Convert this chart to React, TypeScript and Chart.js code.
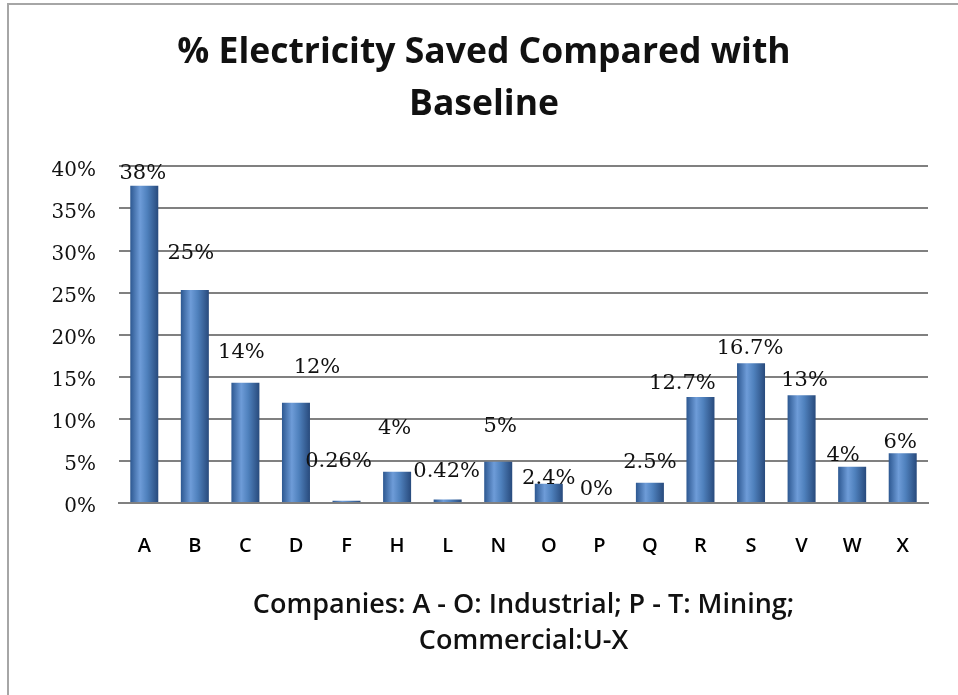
import React, { useEffect, useRef } from "react";
import { Chart, registerables } from "chart.js";

Chart.register(...registerables);

const CATEGORIES = ["A", "B", "C", "D", "F", "H", "L", "N", "O", "P", "Q", "R", "S", "V", "W", "X"];
const SAVED_PCT = [37.7, 25.3, 14.3, 11.9, 0.26, 3.7, 0.42, 4.9, 2.3, 0, 2.4, 12.6, 16.6, 12.8, 4.3, 5.9];
const VALUE_LABELS = ["38%", "25%", "14%", "12%", "0.26%", "4%", "0.42%", "5%", "2.4%", "0%", "2.5%", "12.7%", "16.7%", "13%", "4%", "6%"];
// label nudges relative to each bar's top centre (as placed in the original)
const LABEL_DX = [-1.5, -4, -4, 21, -8, -2.5, -1, 2, 0, -3, 0, -18, -1, 3, -9, -2.5];
const LABEL_DY = [-12, -37, -30, -35, -39, -43, -28, -35, -5.5, -13, -20, -13, -14.5, -15, -11.5, -10.5];
const TITLE_LINES = ["% Electricity Saved Compared with", "Baseline"];
const X_TITLE_LINES = ["Companies: A - O: Industrial; P - T: Mining;", "Commercial:U-X"];
const Y_MIN = 0;
const Y_MAX = 40;
const Y_STEP = 5;

const BAR_PCT = 0.554;

const frame = {
  id: "frame",
  beforeDraw(chart: any) {
    const { ctx, width, height } = chart;
    ctx.save();
    ctx.fillStyle = "#ffffff";
    ctx.fillRect(0, 0, width, height);
    ctx.strokeStyle = "#a6a6a6";
    ctx.lineWidth = 2;
    ctx.beginPath();
    ctx.moveTo(8, height + 5);
    ctx.lineTo(8, 4);
    ctx.lineTo(width + 5, 4);
    ctx.stroke();
    ctx.restore();
  },
};

const valueLabels = {
  id: "valueLabels",
  afterDatasetsDraw(chart: any) {
    const { ctx } = chart;
    const meta = chart.getDatasetMeta(0);
    ctx.save();
    ctx.font = "21px 'DejaVu Serif'";
    ctx.fillStyle = "#111111";
    ctx.textAlign = "center";
    ctx.textBaseline = "middle";
    meta.data.forEach((el: any, i: number) => {
      ctx.fillText(VALUE_LABELS[i], el.x + LABEL_DX[i], el.y + LABEL_DY[i]);
    });
    ctx.restore();
  },
};

function barGradient(ctx: any) {
  const chart = ctx.chart;
  const xs = chart.scales?.x;
  if (!xs || !chart.chartArea) return "#4f81bd";
  const cx = xs.getPixelForValue(ctx.dataIndex);
  const half = ((xs.width / CATEGORIES.length) * BAR_PCT) / 2;
  const g = chart.ctx.createLinearGradient(cx - half, 0, cx + half, 0);
  g.addColorStop(0, "#2d5891");
  g.addColorStop(0.35, "#6e9cd8");
  g.addColorStop(0.6, "#4f81bd");
  g.addColorStop(1, "#284a7c");
  return g;
}

export default function App() {
  const ref = useRef<HTMLCanvasElement | null>(null);

  useEffect(() => {
    if (!ref.current) return;
    const chart = new Chart(ref.current, {
      type: "bar",
      data: {
        labels: CATEGORIES,
        datasets: [
          {
            data: SAVED_PCT,
            backgroundColor: barGradient as any,
            borderWidth: 0,
            categoryPercentage: 1,
            barPercentage: BAR_PCT,
          },
        ],
      },
      options: {
        responsive: false,
        animation: false,
        layout: { padding: { left: 40, right: 30, top: 0, bottom: 36 } },
        plugins: {
          legend: { display: false },
          tooltip: { enabled: false },
          title: {
            display: true,
            text: TITLE_LINES,
            color: "#111111",
            font: { family: "'Open Sans'", size: 35.5, weight: "bold", lineHeight: 1.47 },
            padding: { top: 27, bottom: 35 },
          },
        },
        scales: {
          x: {
            grid: { display: false, drawTicks: false },
            border: { display: true, color: "#808080", width: 2 },
            ticks: {
              color: "#000000",
              font: { family: "'Open Sans'", size: 20, weight: "600" },
              padding: 31,
              maxRotation: 0,
            },
            title: {
              display: true,
              text: X_TITLE_LINES,
              color: "#111111",
              font: { family: "'Open Sans'", size: 27, weight: "600", lineHeight: 36 / 27 },
              padding: { top: 29, bottom: 0 },
            },
            afterFit(scale: any) {
              scale.height = 156;
            },
          },
          y: {
            min: Y_MIN,
            max: Y_MAX,
            grid: { color: "#808080", lineWidth: 2, drawTicks: false },
            border: { display: false },
            ticks: {
              stepSize: Y_STEP,
              color: "#111111",
              font: { family: "'DejaVu Serif'", size: 20 },
              padding: 23,
              labelOffset: 4,
              callback: (v: any) => v + "%",
            },
            afterFit(scale: any) {
              scale.width = 79;
            },
          },
        },
      },
      plugins: [frame, valueLabels],
    });
    return () => chart.destroy();
  }, []);

  return (
    <div style={{ position: "absolute", left: 0, top: 0, width: 958, height: 695, background: "#fff" }}>
      <canvas ref={ref} width={958} height={695} style={{ display: "block" }} />
    </div>
  );
}
